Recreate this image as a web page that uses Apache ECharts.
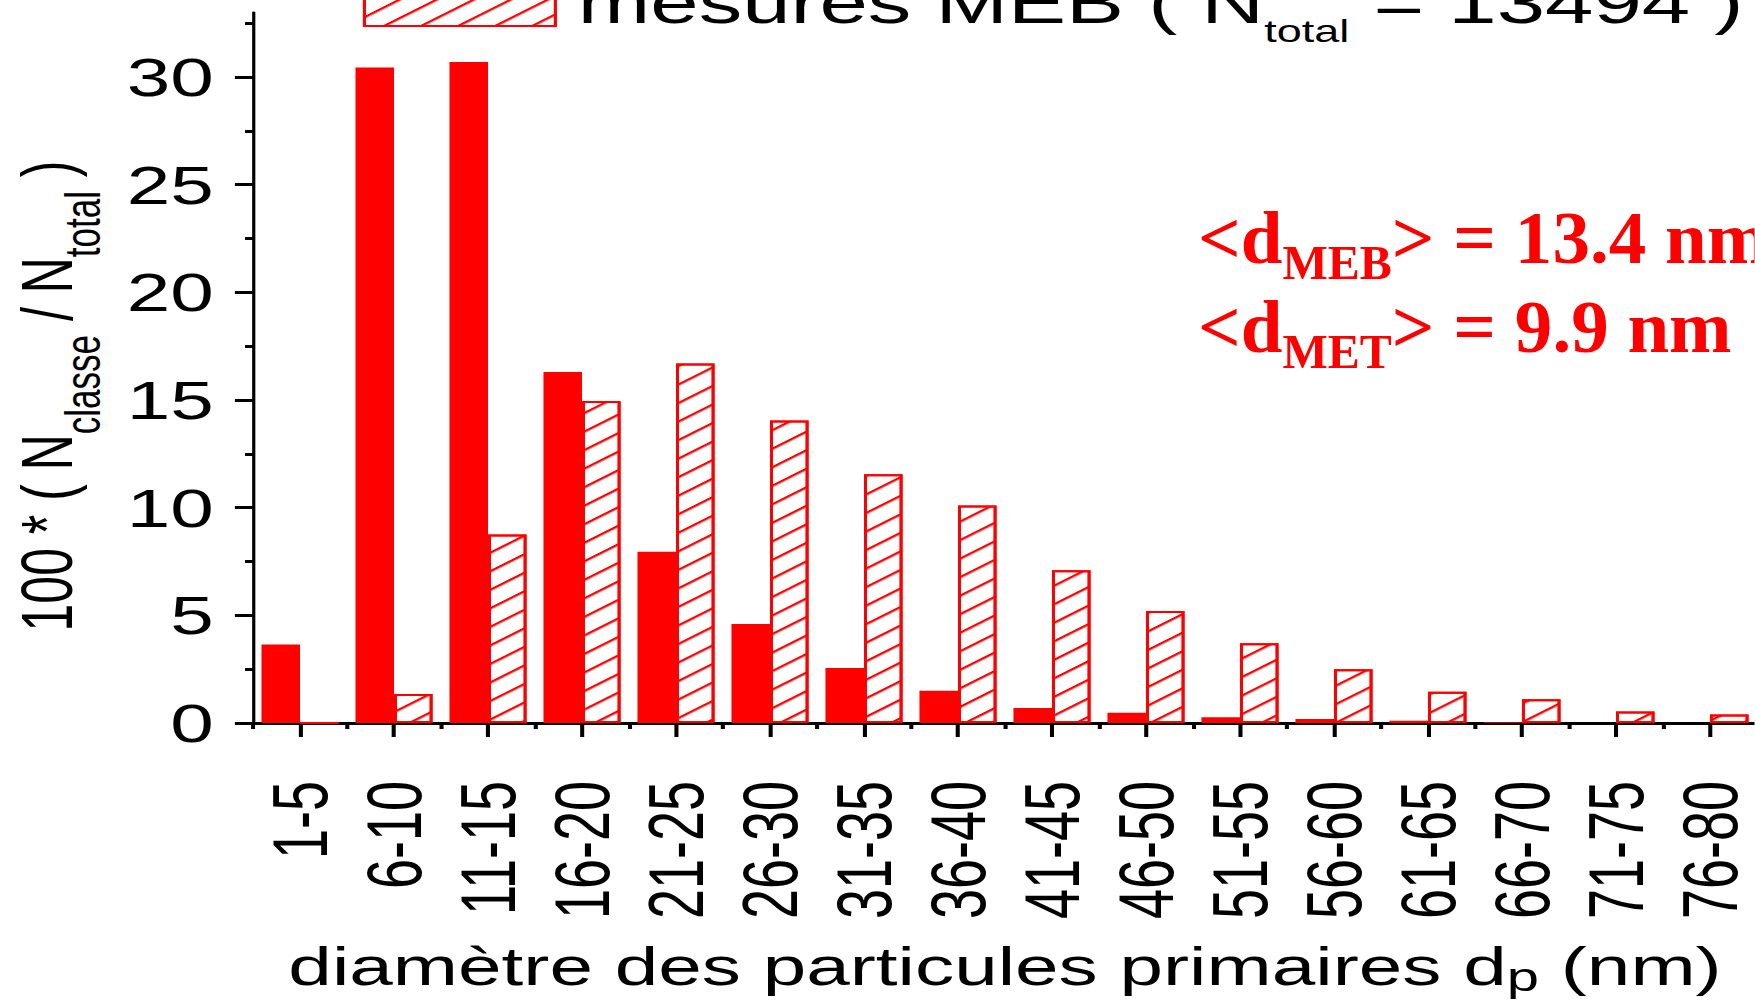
<!DOCTYPE html>
<html>
<head>
<meta charset="utf-8">
<script src="https://cdn.jsdelivr.net/npm/echarts@6/dist/echarts.min.js"></script>
<style>
  html, body { margin: 0; padding: 0; background: #fff; overflow: hidden; width: 1755px; height: 1008px; }
  /* the figure is laid out on a narrower canvas and stretched horizontally */
  #chart { width: 1210px; height: 1008px; transform: scaleX(1.45); transform-origin: 0 0; }
</style>
</head>
<body>
<div id="chart"></div>
<script>
// particle diameter classes (nm)
const categories = ['1-5', '6-10', '11-15', '16-20', '21-25', '26-30', '31-35', '36-40',
                    '41-45', '46-50', '51-55', '56-60', '61-65', '66-70', '71-75', '76-80'];
// 100 * N_classe / N_total, TEM counts (solid bars)
const metValues = [3.65, 30.45, 30.7, 16.3, 7.95, 4.6, 2.55, 1.5, 0.7, 0.48, 0.27, 0.18, 0.11, 0.04, 0, 0];
// 100 * N_classe / N_total, SEM counts (hatched bars)
const mebValues = [0, 1.35, 8.75, 14.95, 16.7, 14.05, 11.55, 10.1, 7.1, 5.2, 3.7, 2.5, 1.45, 1.1, 0.53, 0.4];
const yMajorTicks = [0, 5, 10, 15, 20, 25, 30];
const yMinorTicks = [2.5, 7.5, 12.5, 17.5, 22.5, 27.5, 32.5];
const nTotalMEB = 13494;
const meanMEB = '13.4';
const meanMET = '9.9';

const RED = '#ff0000';
const SANS = "'Liberation Sans', Arial, sans-serif";
const SERIF = "'Liberation Serif', 'Times New Roman', serif";
const STRETCH = 1.45;

const metName = 'mesures MET';
const mebName = 'mesures MEB ( Ntotal = ' + nTotalMEB + ' )';

const chart = echarts.init(document.getElementById('chart'), null, { renderer: 'svg' });

const option = {
  animation: false,
  backgroundColor: '#fff',
  textStyle: { fontFamily: SANS, color: '#000' },
  grid: { left: 174.5, right: -1.7, top: 12.5, bottom: 285, outerBoundsMode: 'none' },
  legend: {
    data: [mebName],
    left: 250.3,
    top: -27.5,
    padding: 0,
    icon: 'rect',
    itemWidth: 131.7,
    itemHeight: 47,
    selectedMode: false,
    itemStyle: { borderColor: RED, borderWidth: 2 },
    formatter: () => '{m|mesures MEB ( N}{s|total}{m| = ' + nTotalMEB + ' )}',
    textStyle: {
      fontFamily: SANS, fontSize: 60, color: '#000', padding: [0, 0, 0, 10.5],
      rich: {
        m: { fontFamily: SANS, fontSize: 60, color: '#000', verticalAlign: 'middle' },
        s: { fontFamily: SANS, fontSize: 31, color: '#000', verticalAlign: 'middle', padding: [58, 0, 0, 0] }
      }
    }
  },
  xAxis: [
    {
      type: 'category',
      data: categories,
      position: 'bottom',
      boundaryGap: true,
      axisLine: { show: true, lineStyle: { color: '#000', width: 3 } },
      axisTick: { show: true, length: 6, lineStyle: { color: '#000', width: 2.8 } },
      axisLabel: {
        interval: 0, rotate: 90, fontSize: 54, fontFamily: SANS, color: '#000', margin: 58
      },
      splitLine: { show: false },
      name: '{m|diamètre des particules primaires d}{s|p}{m| (nm)}',
      nameLocation: 'middle',
      nameGap: 211,
      nameTextStyle: {
        fontFamily: SANS, fontSize: 54, color: '#000',
        rich: {
          m: { fontFamily: SANS, fontSize: 54, color: '#000', verticalAlign: 'middle' },
          s: { fontFamily: SANS, fontSize: 40, color: '#000', verticalAlign: 'middle', padding: [23.6, 0, 0, 0] }
        }
      }
    },
    {
      // long ticks at the class centres
      type: 'category',
      data: categories,
      position: 'bottom',
      axisLine: { show: false },
      axisTick: { show: true, alignWithLabel: true, length: 14, lineStyle: { color: '#000', width: 2.8 } },
      axisLabel: { show: false },
      splitLine: { show: false }
    }
  ],
  yAxis: [
    {
      type: 'value',
      min: 0, max: 33, interval: 5,
      position: 'left',
      axisLine: { show: true, onZero: false, lineStyle: { color: '#000', width: 2.2 } },
      axisTick: { show: true, length: 12.5, customValues: yMajorTicks, lineStyle: { color: '#000', width: 3 } },
      axisLabel: { customValues: yMajorTicks, fontSize: 54, fontFamily: SANS, color: '#000', margin: 27 },
      splitLine: { show: false }
    },
    {
      // minor ticks every 2.5
      type: 'value',
      min: 0, max: 33, interval: 5,
      position: 'left',
      axisLine: { show: false },
      axisTick: { show: true, length: 5.5, customValues: yMinorTicks, lineStyle: { color: '#000', width: 3 } },
      axisLabel: { show: false },
      splitLine: { show: false }
    }
  ],
  series: [
    {
      name: metName,
      type: 'bar',
      data: metValues,
      barWidth: '41%',
      barGap: '0%',
      itemStyle: { color: RED }
    },
    {
      name: mebName,
      type: 'bar',
      data: mebValues,
      barWidth: '41%',
      barGap: '0%',
      itemStyle: {
        color: '#fff',
        borderColor: RED,
        borderWidth: 2,
        decal: {
          symbol: 'rect',
          symbolSize: 1,
          dashArrayX: [1, 0],
          dashArrayY: [2, 13],
          rotation: -0.6275,
          color: RED
        }
      }
    }
  ],
  graphic: [
    {
      // y axis title, read bottom to top
      type: 'text',
      x: 32.3,
      y: 396,
      rotation: Math.PI / 2,
      style: {
        text: '{m|100 * ( N}{s|classe}{m| / N}{s|total}{m| )}',
        align: 'center',
        verticalAlign: 'middle',
        rich: {
          m: { fontFamily: SANS, fontSize: 50, fill: '#000', verticalAlign: 'middle' },
          s: { fontFamily: SANS, fontSize: 35, fill: '#000', verticalAlign: 'middle', padding: [49, 0, 0, 0] }
        }
      }
    },
    {
      type: 'text',
      x: 826.2,
      y: 237.4,
      scaleX: 1 / STRETCH,
      style: {
        text: '{m|<d}{s|MEB}{m|> = ' + meanMEB + ' nm}',
        align: 'left',
        verticalAlign: 'middle',
        rich: {
          m: { fontFamily: SERIF, fontWeight: 'bold', fontSize: 75, fill: RED, verticalAlign: 'middle' },
          s: { fontFamily: SERIF, fontWeight: 'bold', fontSize: 48, fill: RED, verticalAlign: 'middle', padding: [50.8, 0, 0, 0] }
        }
      }
    },
    {
      type: 'text',
      x: 826.2,
      y: 326.4,
      scaleX: 1 / STRETCH,
      style: {
        text: '{m|<d}{s|MET}{m|> = ' + meanMET + ' nm}',
        align: 'left',
        verticalAlign: 'middle',
        rich: {
          m: { fontFamily: SERIF, fontWeight: 'bold', fontSize: 75, fill: RED, verticalAlign: 'middle' },
          s: { fontFamily: SERIF, fontWeight: 'bold', fontSize: 48, fill: RED, verticalAlign: 'middle', padding: [50.8, 0, 0, 0] }
        }
      }
    }
  ]
};

chart.setOption(option);
</script>
</body>
</html>
